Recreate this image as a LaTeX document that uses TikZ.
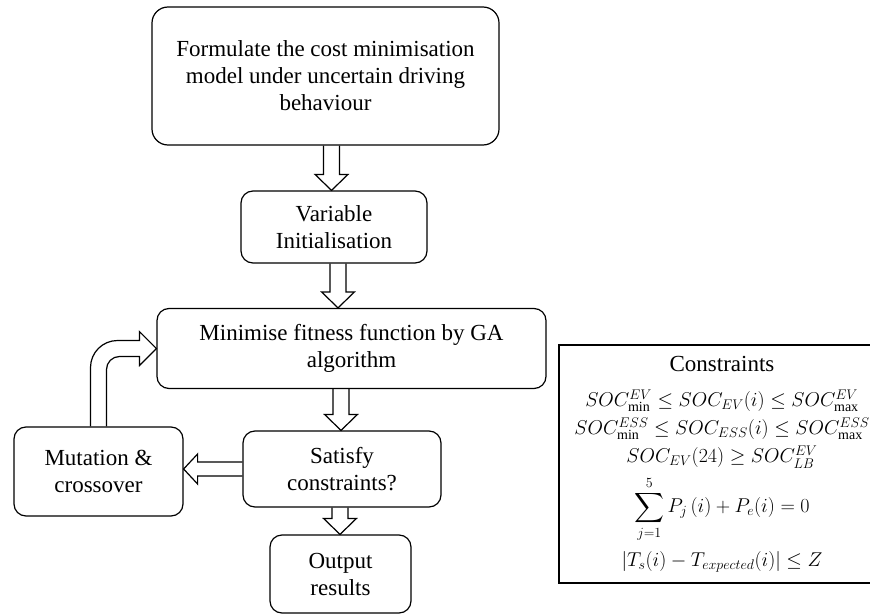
\RequirePackage{fix-cm}
\documentclass[tikz,border=0pt]{standalone}
\usepackage{exscale}
\usepackage{fontspec}
\setmainfont{Liberation Serif}
\usetikzlibrary{calc}

\begin{document}
\begin{tikzpicture}[x=1pt,y=1pt,line width=1.2pt,
  font=\fontsize{23}{27}\selectfont,
  stage/.style={draw,rounded corners=12pt,align=center,inner sep=0pt},
  consbox/.style={draw,rectangle,align=center,inner sep=0pt,
    font=\fontsize{20}{28}\selectfont},
  blockarrow/.style={draw,line join=miter}]
% 870 x 615 page, y counted downwards as negative values
\useasboundingbox (0,0) rectangle (870,-615);

% main column
\node[stage,rounded corners=16pt,minimum width=347pt,minimum height=138pt]
  (form) at (325.5,-76) {Formulate the cost minimisation\\model under uncertain driving\\behaviour};
\node[stage,minimum width=186pt,minimum height=72pt]
  (init) at (334,-227) {Variable\\Initialisation};
\node[stage,minimum width=389pt,minimum height=80pt]
  (fit) at (351.5,-348.5) {Minimise fitness function by GA\\algorithm};
\node[stage,minimum width=198pt,minimum height=76pt]
  (check) at (342,-469) {Satisfy\\constraints?};
\node[stage,minimum width=141pt,minimum height=78pt]
  (output) at (340.5,-574) {Output\\results};

% side branch
\node[stage,minimum width=169pt,minimum height=89pt]
  (mutate) at (98.5,-471.5) {Mutation \&\\crossover};

% list of constraints, runs off the right edge
\node[consbox,minimum width=326pt,minimum height=238pt] (cons) at (722,-464)
  {{\fontsize{23}{27}\selectfont Constraints}\\[7pt]
   $SOC^{EV}_{\min}\le SOC_{EV}(i)\le SOC^{EV}_{\max}$\\
   $SOC^{ESS}_{\min}\le SOC_{ESS}(i)\le SOC^{ESS}_{\max}$\\
   $SOC_{EV}(24)\ge SOC^{EV}_{LB}$\\[7pt]
   $\displaystyle\sum_{j=1}^{5}P_j\,(i)+P_e(i)=0$\\[8pt]
   $|T_s(i)-T_{expected}(i)|\le Z$};

% hollow down arrow: from, to, x shift against the lower node
\newcommand{\blockdown}[3]{%
  \draw[blockarrow] let \p1=(#1.south), \p2=($(#2.north)+(#3,0)$) in
    (\x2-8pt,\y1) -- (\x2-8pt,\y2+16pt) -- (\x2-16.5pt,\y2+16pt) -- (\x2,\y2)
    -- (\x2+16.5pt,\y2+16pt) -- (\x2+8pt,\y2+16pt) -- (\x2+8pt,\y1);}

\blockdown{form}{init}{-2.5}
\blockdown{init}{fit}{-13.5}
\blockdown{fit}{check}{-1}
\blockdown{check}{output}{-0.5}

% back to the mutation box
\draw[blockarrow] let \p1=(check.west), \p2=(mutate.east) in
  (\x1,\y1+7pt) -- (\x2+14pt,\y1+7pt) -- (\x2+14pt,\y1+15pt) -- (\x2,\y1)
  -- (\x2+14pt,\y1-15pt) -- (\x2+14pt,\y1-7pt) -- (\x1,\y1-7pt);

% and round again into the GA step
\draw[blockarrow] let \p1=(mutate.north), \p2=(fit.west) in
  (\x1-8pt,\y1) -- (\x1-8pt,\y2-19pt) arc[start angle=180,end angle=90,radius=27pt]
  -- (\x2-17pt,\y2+8pt) -- (\x2-17pt,\y2+17pt) -- (\x2,\y2)
  -- (\x2-17pt,\y2-17pt) -- (\x2-17pt,\y2-8pt) -- (\x1+21pt,\y2-8pt)
  arc[start angle=90,end angle=180,radius=13pt] -- (\x1+8pt,\y1);
\end{tikzpicture}
\end{document}
